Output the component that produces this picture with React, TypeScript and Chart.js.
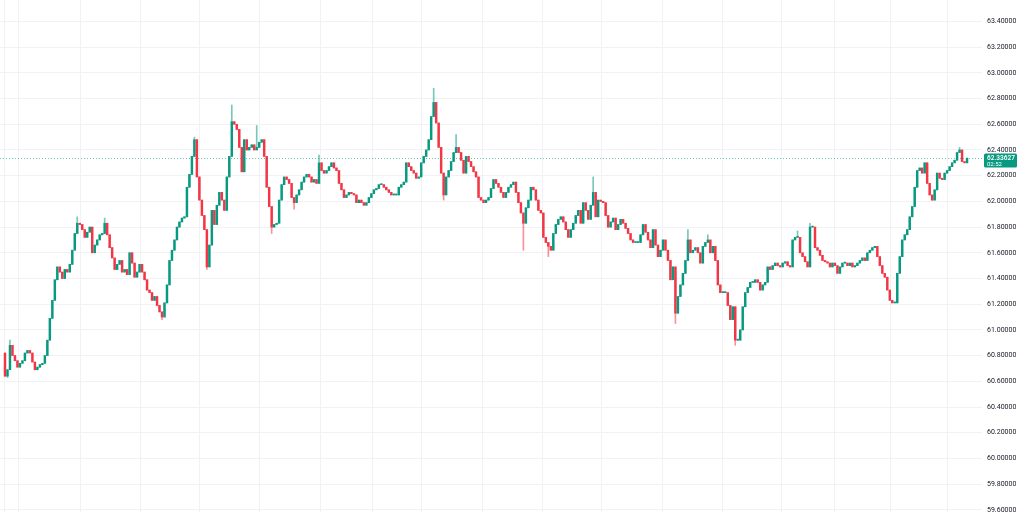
import React, { useEffect, useRef } from "react";
import { Chart, registerables } from "chart.js";

Chart.register(...registerables);

// ---- data ----
const FIRST_OPEN = 60.82;

const closesA = [
  60.64, 60.69, 60.88, 60.80, 60.76, 60.71, 60.74, 60.76, 60.82, 60.84,
  60.82, 60.75, 60.69, 60.71, 60.73, 60.74, 60.80, 60.92, 61.09, 61.23,
  61.39, 61.49, 61.45, 61.40, 61.47, 61.45, 61.51, 61.62, 61.75, 61.83,
  61.82, 61.78, 61.72, 61.76, 61.80, 61.60, 61.66, 61.70, 61.74, 61.75,
  61.83, 61.74, 61.64, 61.56, 61.47, 61.51, 61.54, 61.45, 61.47, 61.43,
  61.60, 61.52, 61.41, 61.45, 61.51, 61.45, 61.39, 61.31, 61.29, 61.23,
  61.26, 61.19, 61.14, 61.10, 61.21, 61.35, 61.54, 61.62, 61.70, 61.80,
  61.84, 61.87, 61.88, 62.11, 62.21, 62.35, 62.48, 62.19, 62.01, 61.89,
  61.78, 61.49, 61.66, 61.93, 61.82, 61.97, 62.07, 62.01, 61.93, 62.19,
  62.35, 62.62, 62.60, 62.56, 62.42, 62.23,
];

const closesB = [
  62.48, 62.40, 62.42, 62.44, 62.40, 62.42, 62.46, 62.48, 62.35, 62.11,
  61.96, 61.80, 61.82, 61.83, 62.01, 62.13, 62.19, 62.17, 62.14, 62.03,
  61.99, 62.05, 62.09, 62.15, 62.19, 62.21, 62.19, 62.15, 62.17, 62.14,
  62.30, 62.24, 62.22, 62.24, 62.27, 62.30, 62.26, 62.24, 62.14, 62.09,
  62.03, 62.05, 62.07, 62.06, 62.05, 61.99, 62.01, 61.99, 61.97, 61.99,
  62.03, 62.06, 62.09, 62.10, 62.13, 62.13, 62.11, 62.09, 62.07, 62.05,
  62.05, 62.05, 62.11, 62.13, 62.15, 62.30, 62.27, 62.24, 62.22, 62.18,
  62.19, 62.30, 62.35, 62.40, 62.48, 62.66, 62.77, 62.61, 62.42, 62.22,
  62.05, 62.19, 62.24, 62.31, 62.38, 62.42, 62.38, 62.32, 62.22, 62.35,
  62.31, 62.27, 62.23, 62.19, 62.03, 62.01, 61.99,
];

const closesC = [
  62.01, 62.03, 62.10, 62.17, 62.14, 62.11, 62.07, 62.03, 62.07, 62.11,
  62.13, 62.15, 62.07, 61.99, 61.91, 61.83, 61.95, 62.01, 62.11, 62.09,
  62.01, 61.93, 61.91, 61.72, 61.68, 61.65, 61.62, 61.75, 61.82, 61.86,
  61.88, 61.84, 61.78, 61.72, 61.78, 61.83, 61.89, 61.93, 61.83, 61.99,
  61.93, 61.86, 61.97, 62.07, 61.88, 62.01, 62.00, 61.99, 61.89, 61.80,
  61.84, 61.87, 61.78, 61.82, 61.86, 61.83, 61.79, 61.75, 61.70, 61.68,
  61.68, 61.68, 61.74, 61.82, 61.76, 61.70, 61.64, 61.78, 61.66, 61.57,
  61.62, 61.70, 61.62, 61.54, 61.39, 61.49, 61.13, 61.26, 61.35, 61.44,
  61.54, 61.70, 61.60, 61.62, 61.64, 61.60, 61.52, 61.65, 61.68, 61.70,
  61.60, 61.65, 61.54, 61.35, 61.29,
];

const closesD = [
  61.29, 61.29, 61.19, 61.08, 61.18, 60.92, 60.92, 61.00, 61.18, 61.29,
  61.33, 61.37, 61.37, 61.39, 61.37, 61.31, 61.35, 61.37, 61.49, 61.47,
  61.50, 61.52, 61.50, 61.49, 61.52, 61.53, 61.50, 61.49, 61.70, 61.72,
  61.72, 61.60, 61.57, 61.53, 61.49, 61.80, 61.80, 61.64, 61.62, 61.58,
  61.54, 61.53, 61.52, 61.49, 61.52, 61.50, 61.44, 61.49, 61.52, 61.52,
  61.50, 61.52, 61.49, 61.50, 61.52, 61.54, 61.56, 61.54, 61.60, 61.62,
  61.64, 61.65, 61.57, 61.50, 61.44, 61.41, 61.31, 61.23, 61.21, 61.21,
  61.44, 61.57, 61.70, 61.74, 61.78, 61.88, 61.96, 62.11, 62.24, 62.26,
  62.22, 62.30, 62.14, 62.05, 62.01, 62.09, 62.22, 62.18, 62.17, 62.22,
  62.24, 62.27, 62.30, 62.32, 62.38, 62.40, 62.31, 62.30, 62.336,
];

// notable wicks: [candle index, price]
const highWicks: [number, number][] = [
  [2, 60.92], [29, 61.88], [40, 61.87], [76, 62.5], [91, 62.75], [101, 62.59],
  [126, 62.36], [172, 62.88], [181, 62.52], [236, 62.19], [274, 61.78],
  [282, 61.74], [318, 61.77], [323, 61.83], [383, 62.42],
];
const lowWicks: [number, number][] = [
  [1, 60.63], [63, 61.08], [81, 61.47], [107, 61.75], [116, 61.94],
  [176, 62.01], [208, 61.62], [218, 61.57], [269, 61.05], [293, 60.88],
];

const LAST_PRICE = 62.33627;
const COUNTDOWN = "02:52";

const yTickValues = [
  59.6, 59.8, 60.0, 60.2, 60.4, 60.6, 60.8, 61.0, 61.2, 61.4,
  61.6, 61.8, 62.0, 62.2, 62.4, 62.6, 62.8, 63.0, 63.2, 63.4,
];
const xGridIndices = [
  0, 5.6, 30.1, 54.2, 78.2, 102.3, 126.4, 147.6, 167.3, 191.4,
  215.5, 239.5, 264.0, 287.7, 311.7, 333.0, 355.1, 378.0,
];

const Y_MIN = 59.583;
const Y_MAX = 63.567;
const X_MIN = -2;
const X_MAX = 392;

const UP = "#089981";
const DOWN = "#F23645";

const closes = [...closesA, ...closesB, ...closesC, ...closesD];

function buildCandles() {
  const hiMap = new Map(highWicks);
  const loMap = new Map(lowWicks);
  return closes.map((c, i) => {
    const o = i === 0 ? FIRST_OPEN : closes[i - 1];
    let h = Math.max(o, c);
    let l = Math.min(o, c);
    if (hiMap.has(i)) h = Math.max(h, hiMap.get(i) as number);
    if (loMap.has(i)) l = Math.min(l, loMap.get(i) as number);
    return { i, o, h, l, c };
  });
}

const lastPricePlugin = {
  id: "lastPrice",
  afterDraw(chart: any) {
    const { ctx, chartArea, scales } = chart;
    const y = Math.round(scales.y.getPixelForValue(LAST_PRICE)) + 0.5;
    ctx.save();
    ctx.strokeStyle = "rgba(8,153,129,0.6)";
    ctx.lineWidth = 1;
    ctx.setLineDash([1, 2]);
    ctx.beginPath();
    ctx.moveTo(0, y);
    ctx.lineTo(chartArea.right + 2, y);
    ctx.stroke();
    ctx.setLineDash([]);
    const bx = chartArea.right + 2;
    const bw = 33;
    const by = y - 5;
    const bh = 14;
    ctx.fillStyle = UP;
    ctx.beginPath();
    if (ctx.roundRect) ctx.roundRect(bx, by, bw, bh, 1.5);
    else ctx.rect(bx, by, bw, bh);
    ctx.fill();
    ctx.fillStyle = "#ffffff";
    ctx.textBaseline = "middle";
    ctx.textAlign = "left";
    ctx.font = "600 6.5px Roboto";
    ctx.fillText(LAST_PRICE.toFixed(5), bx + 3, y - 0.5);
    ctx.font = "6px Roboto";
    ctx.fillText(COUNTDOWN, bx + 3, y + 5.5);
    ctx.restore();
  },
};

export default function App() {
  const ref = useRef<HTMLCanvasElement | null>(null);

  useEffect(() => {
    if (!ref.current) return;
    const candles = buildCandles();
    const colors = candles.map((k) => (k.c >= k.o ? UP : DOWN));
    const wickColors = candles.map((k) =>
      k.c >= k.o ? "rgba(8,153,129,0.55)" : "rgba(242,54,69,0.55)"
    );
    const chart = new Chart(ref.current, {
      type: "bar",
      data: {
        datasets: [
          {
            label: "body",
            data: candles.map((k) => ({ x: k.i, y: [k.o, k.c] })) as any,
            backgroundColor: colors,
            borderWidth: 0,
            barThickness: 1.8,
            minBarLength: 1,
            grouped: false,
            order: 0,
          },
          {
            label: "wick",
            data: candles.map((k) => ({ x: k.i, y: [k.l, k.h] })) as any,
            backgroundColor: wickColors,
            borderWidth: 0,
            barThickness: 1,
            grouped: false,
            order: 1,
          },
        ],
      },
      options: {
        animation: false,
        responsive: true,
        maintainAspectRatio: false,
        layout: { padding: 0 },
        plugins: { legend: { display: false }, tooltip: { enabled: false } },
        scales: {
          x: {
            type: "linear",
            offset: false,
            min: X_MIN,
            max: X_MAX,
            afterBuildTicks: (axis: any) => {
              axis.ticks = xGridIndices.map((v) => ({ value: v }));
            },
            ticks: { display: false },
            grid: { color: "#f0f2f6", drawTicks: false, lineWidth: 1, offset: false },
            border: { display: false },
          },
          y: {
            type: "linear",
            position: "right",
            min: Y_MIN,
            max: Y_MAX,
            beginAtZero: false,
            afterBuildTicks: (axis: any) => {
              axis.ticks = yTickValues.map((v) => ({ value: v }));
            },
            afterFit: (axis: any) => {
              axis.width = 42;
              axis.paddingTop = 0;
              axis.paddingBottom = 0;
            },
            ticks: {
              padding: 5,
              color: "#131722",
              font: { family: "Roboto", size: 7 },
              callback: (v: any) => Number(v).toFixed(5),
            },
            grid: { color: "#f0f2f6", drawTicks: false, lineWidth: 1 },
            border: { display: false },
          },
        },
      },
      plugins: [lastPricePlugin],
    });
    return () => chart.destroy();
  }, []);

  return (
    <div
      style={{
        position: "fixed",
        left: 0,
        top: 0,
        width: 1024,
        height: 512,
        background: "#ffffff",
      }}
    >
      <canvas ref={ref} />
    </div>
  );
}
